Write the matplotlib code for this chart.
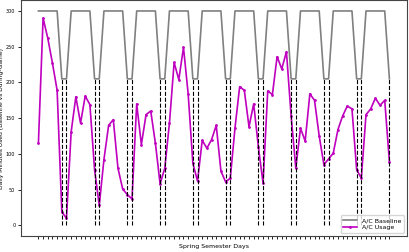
import matplotlib
matplotlib.use('Agg')
import matplotlib.pyplot as plt
import numpy as np

# daily usage (76 days, games on the last two days of each week)
usage = [115, 290, 262, 227, 189, 19, 10,
         131, 180, 143, 181, 169, 78, 28,
         92, 140, 148, 80, 51, 43, 37,
         170, 113, 155, 160, 115, 58, 80,
         143, 228, 204, 249, 184, 87, 62,
         119, 108, 120, 140, 76, 61, 66,
         136, 194, 189, 138, 170, 110, 59,
         188, 183, 236, 219, 243, 153, 80,
         136, 118, 184, 175, 125, 85, 93,
         101, 134, 153, 167, 163, 78, 66,
         155, 163, 178, 168, 175, 89]
weekday_baseline = 300
gameday_baseline = 205
game_weekdays = [5, 6]

days = np.arange(len(usage))
is_game = np.isin(days % 7, game_weekdays)
baseline = np.where(is_game, gameday_baseline, weekday_baseline)

fig = plt.figure(figsize=(4.09, 2.52), dpi=100)
ax = fig.add_axes([0.051, 0.063, 0.944, 0.936])

ax.plot(days, baseline, color='gray', lw=1.2, label='A/C Baseline')
ax.plot(days, usage, color='m', lw=1.2, marker='.', ms=2, label='A/C Usage')
ax.vlines(days[is_game], 0, baseline[is_game], colors='black',
          linestyles='dashed', lw=0.8)

ax.set_xticks(days)
ax.set_xticklabels([])
ax.set_yticks(np.arange(0, 301, 50))
ax.tick_params(axis='both', labelsize=3.5, length=2, width=0.6, pad=2)
ax.set_xlabel('Spring Semester Days', fontsize=4.5, labelpad=2)
ax.set_ylabel('Daily Minutes Used (Baseline vs During-Game)', fontsize=4.3,
              labelpad=1.5)
for s in ax.spines.values():
    s.set_linewidth(0.8)
    s.set_color('#444444')

ax.legend(loc='lower right', fontsize=4.5, handlelength=2.2,
          borderpad=0.4, labelspacing=0.3)

plt.savefig('out.png', dpi=100)
